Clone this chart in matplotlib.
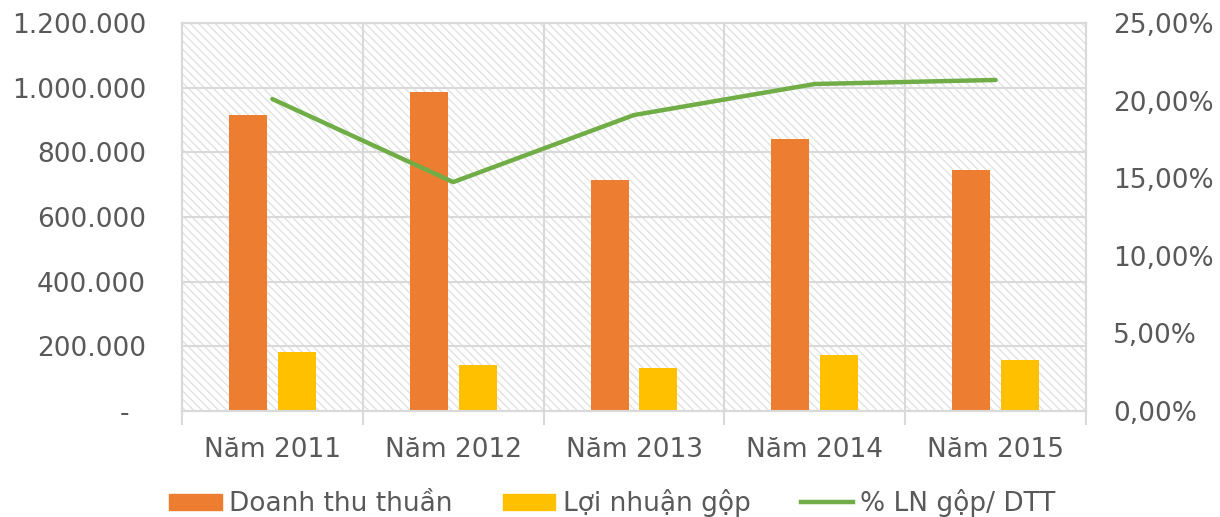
import matplotlib.pyplot as plt
import matplotlib.ticker as mticker
import numpy as np
from matplotlib.patches import Rectangle
from matplotlib.lines import Line2D

plt.rcParams['hatch.linewidth'] = 1.0

# data
years = ['Năm 2011', 'Năm 2012', 'Năm 2013', 'Năm 2014', 'Năm 2015']
doanh_thu = [915000, 987000, 714000, 841000, 745000]
loi_nhuan = [182000, 142000, 133000, 173000, 158000]
pct_ln = [20.1, 14.75, 19.07, 21.07, 21.33]

orange = '#ed7d31'
yellow = '#ffc000'
green = '#70ad47'
txt = '#595959'
grid = '#d9d9d9'
fs = 19

fig = plt.figure(figsize=(12.2, 5.17), dpi=100)
ax = fig.add_axes([182/1220, 1-411/517, (1086-182)/1220, (411-23)/517])
ax2 = ax.twinx()

x = np.arange(len(years))
w = 0.21
off = 0.135

# hatched background
ax.add_patch(Rectangle((0, 0), 1, 1, transform=ax.transAxes, facecolor='white',
                       edgecolor='#e2e2e2', lw=0, hatch='\\\\\\\\', zorder=0))

ax.bar(x - off, doanh_thu, w, color=orange, zorder=3)
ax.bar(x + off, loi_nhuan, w, color=yellow, zorder=3)
ax2.plot(x, pct_ln, color=green, lw=3.2, solid_capstyle='round', zorder=4)

ax.set_xlim(-0.5, len(years) - 0.5)
ax.set_ylim(0, 1200000)
ax2.set_ylim(0, 25)

ax.set_yticks(np.arange(0, 1200001, 200000))
ax.yaxis.set_major_formatter(mticker.FuncFormatter(
    lambda v, p: '-  ' if v == 0 else '{:,.0f}'.format(v).replace(',', '.')))
ax2.set_yticks(np.arange(0, 26, 5))
ax2.yaxis.set_major_formatter(mticker.FuncFormatter(
    lambda v, p: '{:.2f}%'.format(v).replace('.', ',')))

# grid lines
for v in np.arange(200000, 1200001, 200000):
    ax.axhline(v, color=grid, lw=1.5, zorder=1)
for b in np.arange(0.5, len(years) - 0.5, 1):
    ax.axvline(b, color=grid, lw=1.5, zorder=1)

ax.set_xticks(x)
ax.set_xticklabels(years)
ax.set_xticks(np.arange(-0.5, len(years), 1), minor=True)
ax.tick_params(axis='x', which='major', length=0, pad=18.5, labelsize=fs, labelcolor=txt)
ax.tick_params(axis='x', which='minor', length=10, width=1.5, color=grid)
ax.tick_params(axis='y', length=0, pad=26, labelsize=fs, labelcolor=txt)
ax2.tick_params(axis='y', length=0, pad=19.5, labelsize=fs, labelcolor=txt)

for a in (ax, ax2):
    for s in a.spines.values():
        s.set_color(grid)
        s.set_linewidth(1.5)

handles = [Rectangle((0, 0), 1, 1, color=orange),
           Rectangle((0, 0), 1, 1, color=yellow),
           Line2D([0], [0], color=green, lw=3.2)]
fig.legend(handles, ['Doanh thu thuần', 'Lợi nhuận gộp', '% LN gộp/ DTT'],
           loc='center', bbox_to_anchor=(0.502, 1 - 503/517), ncol=3, frameon=False,
           fontsize=fs, labelcolor=txt, handlelength=2.0, handleheight=0.57,
           columnspacing=1.9, handletextpad=0.27, borderpad=0, borderaxespad=0)

fig.savefig('out.png', dpi=100)
